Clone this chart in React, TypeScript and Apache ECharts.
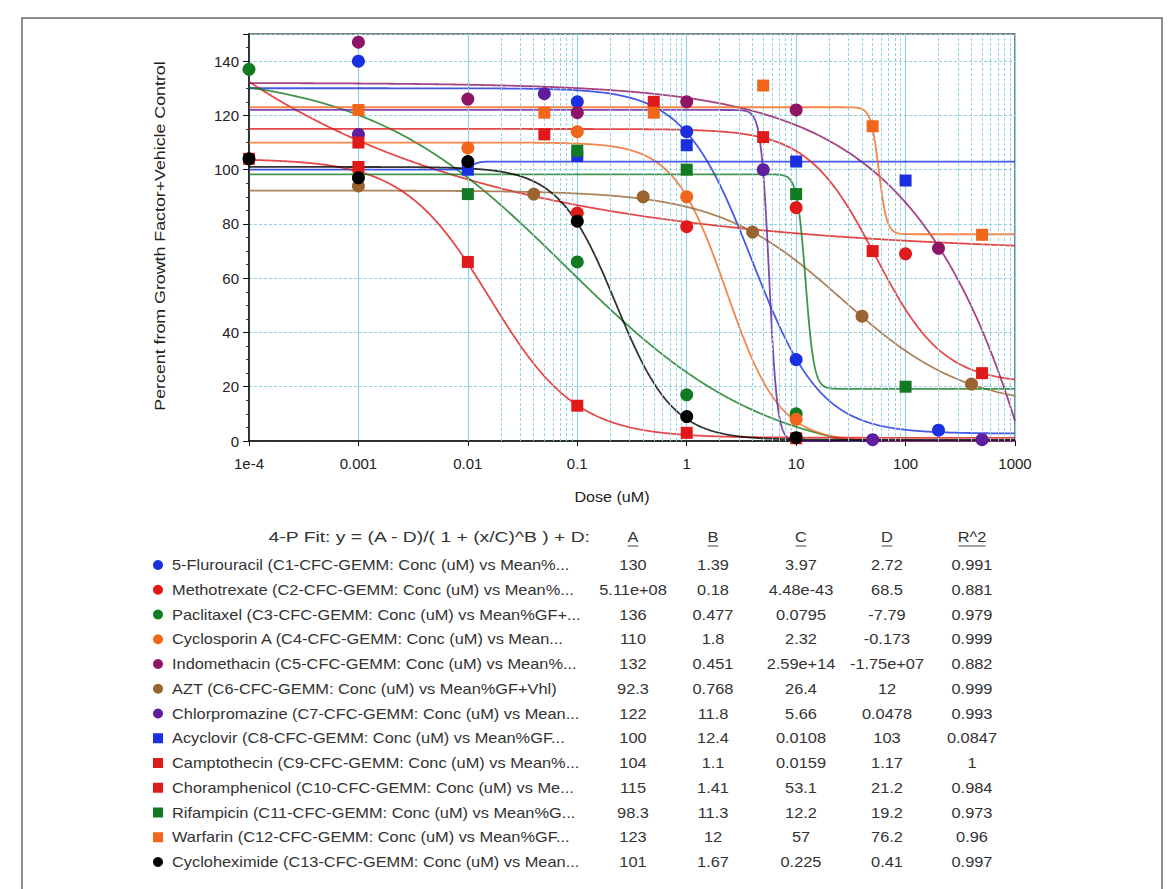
import React, { useEffect, useRef } from "react";
import * as echarts from "echarts";

// ---------- data ----------
const compounds = [
  "5-Flurouracil (C1-CFC-GEMM: Conc (uM) vs Mean%...",
  "Methotrexate (C2-CFC-GEMM: Conc (uM) vs Mean%...",
  "Paclitaxel (C3-CFC-GEMM: Conc (uM) vs Mean%GF+...",
  "Cyclosporin A (C4-CFC-GEMM: Conc (uM) vs Mean...",
  "Indomethacin (C5-CFC-GEMM: Conc (uM) vs Mean%...",
  "AZT (C6-CFC-GEMM: Conc (uM) vs Mean%GF+Vhl)",
  "Chlorpromazine (C7-CFC-GEMM: Conc (uM) vs Mean...",
  "Acyclovir (C8-CFC-GEMM: Conc (uM) vs Mean%GF...",
  "Camptothecin (C9-CFC-GEMM: Conc (uM) vs Mean%...",
  "Choramphenicol (C10-CFC-GEMM: Conc (uM) vs Me...",
  "Rifampicin (C11-CFC-GEMM: Conc (uM) vs Mean%G...",
  "Warfarin (C12-CFC-GEMM: Conc (uM) vs Mean%GF...",
  "Cycloheximide (C13-CFC-GEMM: Conc (uM) vs Mean...",
];

const fitA = ["130", "5.11e+08", "136", "110", "132", "92.3", "122", "100", "104", "115", "98.3", "123", "101"];
const fitB = ["1.39", "0.18", "0.477", "1.8", "0.451", "0.768", "11.8", "12.4", "1.1", "1.41", "11.3", "12", "1.67"];
const fitC = ["3.97", "4.48e-43", "0.0795", "2.32", "2.59e+14", "26.4", "5.66", "0.0108", "0.0159", "53.1", "12.2", "57", "0.225"];
const fitD = ["2.72", "68.5", "-7.79", "-0.173", "-1.75e+07", "12", "0.0478", "103", "1.17", "21.2", "19.2", "76.2", "0.41"];
const fitR2 = ["0.991", "0.881", "0.979", "0.999", "0.882", "0.999", "0.993", "0.0847", "1", "0.984", "0.973", "0.96", "0.997"];

const fluorouracilPts = [[0.001, 140], [0.1, 125], [1, 114], [10, 30], [200, 4]];
const methotrexatePts = [[0.1, 84], [1, 79], [10, 86], [100, 69]];
const paclitaxelPts = [[0.0001, 137], [0.1, 66], [1, 17], [10, 10]];
const cyclosporinPts = [[0.01, 108], [0.1, 114], [1, 90], [10, 8]];
const indomethacinPts = [[0.001, 147], [0.01, 126], [0.1, 121], [1, 125], [10, 122], [200, 71]];
const aztPts = [[0.001, 94], [0.04, 91], [0.4, 90], [4, 77], [40, 46], [400, 21]];
const chlorpromazinePts = [[0.001, 113], [0.05, 128], [5, 100], [50, 0.5], [500, 0.5]];
const acyclovirPts = [[0.01, 100], [0.1, 105], [1, 109], [10, 103], [100, 96]];
const camptothecinPts = [[0.0001, 104], [0.001, 101], [0.01, 66], [0.1, 13], [1, 3], [10, 1]];
const chloramphenicolPts = [[0.001, 110], [0.05, 113], [0.5, 125], [5, 112], [50, 70], [500, 25]];
const rifampicinPts = [[0.01, 91], [0.1, 107], [1, 100], [10, 91], [100, 20]];
const warfarinPts = [[0.001, 122], [0.05, 121], [0.5, 121], [5, 131], [50, 116], [500, 76]];
const cycloheximidePts = [[0.0001, 104], [0.001, 97], [0.01, 103], [0.1, 81], [1, 9], [10, 1.2]];

const pointSets = [
  fluorouracilPts, methotrexatePts, paclitaxelPts, cyclosporinPts, indomethacinPts, aztPts,
  chlorpromazinePts, acyclovirPts, camptothecinPts, chloramphenicolPts, rifampicinPts, warfarinPts, cycloheximidePts,
];

const colors = [
  "#1a2fe0", "#e01a1a", "#117a22", "#f2661c", "#8e1466", "#9a6430",
  "#5e1e9e", "#1a2fe0", "#e01a1a", "#e01a1a", "#117a22", "#f2661c", "#000000",
];
const shapes = [
  "circle", "circle", "circle", "circle", "circle", "circle",
  "circle", "rect", "rect", "rect", "rect", "rect", "circle",
];

const xTickLabels = ["1e-4", "0.001", "0.01", "0.1", "1", "10", "100", "1000"];
const xMin = 1e-4;
const xMax = 1000;
const yMin = 0;
const yMax = 150;
const yStep = 20;

const fitTitle = "4-P Fit: y = (A - D)/( 1 + (x/C)^B ) + D:";
const columnHeads = ["A", "B", "C", "D", "R^2"];

// ---------- layout ----------
const PLOT_L = 249;
const PLOT_R = 1015;
const PLOT_T = 34;
const PLOT_B = 441;
const COL_X = [633, 713, 801, 887, 972];
const ROW0 = 565;
const ROW_H = 24.75;
const FONT = "'Liberation Sans', Arial, Helvetica, sans-serif";
const STRETCH = 1.17;

function fitValue(x: number, i: number) {
  const A = Number(fitA[i]);
  const B = Number(fitB[i]);
  const C = Number(fitC[i]);
  const D = Number(fitD[i]);
  return (A - D) / (1 + Math.pow(x / C, B)) + D;
}

const sampleDoses: number[] = [];
for (let k = 0; k <= 1400; k++) sampleDoses.push(Math.pow(10, -4 + (7 * k) / 1400));

const minorXs: number[] = [];
for (let e = -4; e < 3; e++) {
  for (let m = 2; m <= 9; m++) minorXs.push(m * Math.pow(10, e));
}

export default function App() {
  const ref = useRef<HTMLDivElement>(null);
  useEffect(() => {
    if (!ref.current) return;
    const chart = echarts.init(ref.current, null, { renderer: "svg" });

    const lineSeries = compounds.map((name, i) => ({
      name: name + " fit",
      type: "line",
      data: sampleDoses.map((x) => [x, fitValue(x, i)]),
      showSymbol: false,
      symbol: "none",
      smooth: false,
      clip: true,
      silent: true,
      z: 3,
      lineStyle: { color: colors[i], width: 1.8, opacity: 0.8 },
    }));

    const scatterSeries = compounds.map((name, i) => ({
      name,
      type: "scatter",
      data: pointSets[i],
      symbol: shapes[i],
      symbolSize: shapes[i] === "rect" ? 12 : 13,
      itemStyle: { color: colors[i], opacity: 1 },
      z: 5,
      silent: true,
    }));

    const gridSeries = {
      type: "line",
      data: [],
      silent: true,
      z: 1,
      markLine: {
        silent: true,
        symbol: ["none", "none"],
        label: { show: false },
        lineStyle: { color: "#93d0e2", type: [3, 2], width: 1 },
        data: minorXs.map((v) => ({ xAxis: v })),
      },
    };

    const tableText = (text: string, x: number, y: number, align: string, sx = STRETCH) => ({
      type: "text",
      x,
      y,
      scaleX: sx,
      style: { text, font: `14px ${FONT}`, fill: "#333", align, verticalAlign: "middle" },
      silent: true,
    });

    const graphics: any[] = [];
    // outer frame
    graphics.push({
      type: "rect",
      shape: { x: 22, y: 18, width: 1140, height: 900 },
      style: { fill: "none", stroke: "#6a6a6a", lineWidth: 1.5 },
      z: 0,
      silent: true,
    });
    // axis titles
    graphics.push({
      type: "text",
      x: 160,
      y: 236,
      rotation: Math.PI / 2,
      scaleX: 1.27,
      style: {
        text: "Percent from Growth Factor+Vehicle Control",
        font: `14px ${FONT}`,
        fill: "#222",
        align: "center",
        verticalAlign: "middle",
      },
      silent: true,
    });
    graphics.push({
      type: "text",
      x: 612,
      y: 497,
      scaleX: 1.15,
      style: { text: "Dose (uM)", font: `14px ${FONT}`, fill: "#222", align: "center", verticalAlign: "middle" },
      silent: true,
    });
    // table header
    graphics.push(tableText(fitTitle, 590, 537, "right", 1.38));
    columnHeads.forEach((h, c) => {
      const w = h.length === 1 ? 11 : 27;
      graphics.push(tableText(h, COL_X[c], 537, "center"));
      graphics.push({
        type: "line",
        shape: { x1: COL_X[c] - w / 2, y1: 546, x2: COL_X[c] + w / 2, y2: 546 },
        style: { stroke: "#444", lineWidth: 1 },
        silent: true,
      });
    });
    compounds.forEach((name, i) => {
      const y = ROW0 + i * ROW_H;
      if (shapes[i] === "rect") {
        graphics.push({
          type: "rect",
          shape: { x: 153, y: y - 5, width: 10, height: 10 },
          style: { fill: colors[i] },
          silent: true,
        });
      } else {
        graphics.push({
          type: "circle",
          shape: { cx: 158, cy: y, r: 5 },
          style: { fill: colors[i] },
          silent: true,
        });
      }
      graphics.push(tableText(name, 172, y, "left"));
      const vals = [fitA[i], fitB[i], fitC[i], fitD[i], fitR2[i]];
      vals.forEach((v, c) => graphics.push(tableText(v, COL_X[c], y, "center")));
    });

    chart.setOption({
      animation: false,
      backgroundColor: "#ffffff",
      grid: {
        left: PLOT_L,
        right: 1175 - PLOT_R,
        top: PLOT_T,
        bottom: 889 - PLOT_B,
        show: true,
        borderColor: "#555",
        borderWidth: 1.5,
        backgroundColor: "transparent",
      },
      xAxis: {
        type: "log",
        logBase: 10,
        min: xMin,
        max: xMax,
        axisLine: { show: true, lineStyle: { color: "#111", width: 1.5 } },
        axisTick: { show: true, length: 5, lineStyle: { color: "#111" } },
        axisLabel: {
          margin: 15,
          color: "#222",
          fontSize: 15,
          fontFamily: FONT,
          formatter: (v: number) => {
            const e = Math.round(Math.log10(v));
            return xTickLabels[e + 4] ?? "";
          },
        },
        splitLine: { show: true, lineStyle: { color: "#93d0e2", width: 1.2, type: "solid" } },
      },
      yAxis: {
        type: "value",
        min: yMin,
        max: yMax,
        interval: yStep,
        axisLine: { show: true, lineStyle: { color: "#111", width: 1.5 } },
        axisTick: { show: true, length: 6, lineStyle: { color: "#111" } },
        minorTick: { show: true, splitNumber: 4, length: 3, lineStyle: { color: "#333" } },
        axisLabel: { showMaxLabel: false, margin: 10, color: "#222", fontSize: 15, fontFamily: FONT },
        splitLine: { show: true, lineStyle: { color: "#93d0e2", width: 1, type: [3, 2] } },
      },
      series: [gridSeries, ...lineSeries, ...scatterSeries],
      graphic: graphics,
    });
    return () => chart.dispose();
  }, []);

  return (
    <div
      ref={ref}
      style={{ position: "absolute", left: 0, top: 0, width: 1175, height: 889, background: "#fff" }}
    />
  );
}
